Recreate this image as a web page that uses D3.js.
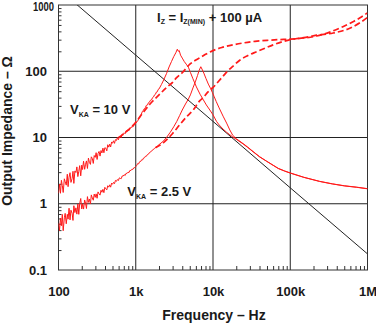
<!DOCTYPE html>
<html>
<head>
<meta charset="utf-8">
<script src="https://cdn.jsdelivr.net/npm/d3@7"></script>
<style>
  html, body { margin: 0; padding: 0; background: #fff; }
  svg { display: block; }
  text { font-family: "Liberation Sans", Arial, Helvetica, sans-serif; font-weight: bold; fill: #1a1a1a; }
</style>
</head>
<body>
<svg id="chart" width="376" height="323"></svg>
<script>
// Axis ticks
const xTickValues = [1e2, 1e3, 1e4, 1e5, 1e6];
const xTickLabels = ["100", "1k", "10k", "100k", "1M"];
const yTickValues = [0.1, 1, 10, 100, 1000];
const yTickLabels = ["0.1", "1", "10", "100", "1000"];

// Capacitive reference line (frequency Hz, impedance Ω)
const capLine = [[170, 1030], [1000, 175], [10000, 17.5], [100000, 1.74], [1000000, 0.175]];

// V_KA = 10 V, measured trace
const solid10V = [
  [100,1.44],[103,1.98],[106,1.44],[109,2.26],[112,1.89],[115,1.48],[119,2.38],[122,2.16],[126,1.91],[130,2.79],
  [133,1.81],[137,2.52],[141,2.94],[145,2.10],[150,2.40],[154,3.09],[158,2.03],[163,3.13],[168,2.96],[173,3.60],
  [178,2.57],[183,3.08],[188,3.76],[194,2.64],[200,3.83],[205,3.29],[211,4.39],[218,3.31],[224,3.94],[230,4.43],
  [237,3.41],[244,4.89],[251,4.22],[259,3.93],[266,5.11],[274,4.82],[282,4.06],[290,5.34],[299,5.02],[307,5.90],
  [316,4.66],[325,5.73],[335,6.16],[345,5.24],[355,6.36],[365,5.84],[376,6.91],[387,5.88],[398,7.01],[410,6.89],
  [422,6.28],[434,7.78],[447,7.15],[460,7.95],[473,7.19],[487,8.57],[501,8.18],[516,8.92],[531,8.16],[546,9.28],
  [562,9.00],[579,10.0],[596,9.24],[613,10.3],[631,10.3],[649,9.97],[668,11.3],[688,11.0],[708,11.8],[729,11.4],
  [750,12.6],[772,12.35],[794,13.1],[818,12.7],[841,14.0],[866,13.9],[891,14.7],[917,14.4],[944,15.4],[972,15.55],
  [1000,16.5],[1030,17.2],[1060,17.8],[1090,19.2],[1120,19.6],[1150,21.5],[1180,22.4],[1220,24.8],[1250,25.5],[1290,27.2],
  [1330,28.2],[1370,30.5],[1420,31],[1460,33.5],[1500,34],[1550,36.5],[1600,37],[1650,40],[1700,41],[1750,44],
  [1800,45],[1850,48.5],[1900,49],[1950,53],[2000,54],[2150,63],[2300,74],[2500,92],[2700,116],[2900,140],
  [3100,166],[3300,190],[3450,215],[3550,200],[3650,206],[3800,175],[4000,158],[4250,140],[4500,128],[4800,115],
  [5100,96],[5500,77],[6100,58],[6800,45],[7500,37],[8200,31],[9100,26],[10000,22],[11100,17.5],[12000,15.5],
  [13500,13.4],[15000,12],[16500,11],[18000,10.2],[20000,9.4],[24500,8.0],[28000,7.1],[33000,6.1],[40000,5.1],[49000,4.4],
  [60000,3.8],[70000,3.4],[85000,3.1],[100000,2.9],[150000,2.5],[240000,2.17],[350000,1.99],[500000,1.86],[725000,1.77],[1000000,1.68]
];

// V_KA = 2.5 V, measured trace
const solid2V5 = [
  [100,0.504],[103,0.394],[106,0.606],[109,0.466],[112,0.690],[115,0.392],[119,0.614],[122,0.715],[126,0.499],[130,0.692],
  [133,0.586],[137,0.855],[141,0.571],[145,0.799],[150,0.717],[154,0.560],[158,0.933],[163,0.736],[168,0.868],[173,0.697],
  [178,0.993],[183,0.692],[188,1.00],[194,1.20],[200,0.834],[205,0.990],[211,0.831],[218,1.14],[224,1.02],[230,0.847],
  [237,1.28],[244,1.05],[251,1.18],[259,0.992],[266,1.36],[274,1.22],[282,1.13],[290,1.40],[299,1.25],[307,1.41],
  [316,1.21],[325,1.51],[335,1.41],[345,1.35],[355,1.60],[365,1.49],[376,1.65],[387,1.47],[398,1.77],[410,1.68],
  [422,1.62],[434,1.87],[447,1.78],[460,1.93],[473,1.78],[487,2.05],[501,1.97],[516,2.10],[531,2.01],[546,2.25],
  [562,2.18],[579,2.32],[596,2.24],[613,2.46],[631,2.41],[649,2.39],[668,2.63],[688,2.62],[708,2.74],[729,2.67],
  [750,2.88],[772,2.87],[794,3.00],[818,2.96],[841,3.19],[866,3.17],[891,3.32],[917,3.30],[944,3.49],[972,3.51],
  [1000,3.64],[1030,3.8],[1060,4.05],[1090,4.0],[1120,4.3],[1160,4.35],[1190,4.6],[1230,4.6],[1260,4.9],[1300,4.95],
  [1330,5.2],[1370,5.2],[1410,5.5],[1460,5.6],[1500,5.9],[1550,6.0],[1600,6.3],[1650,6.4],[1700,6.7],[1750,6.8],
  [1800,7.1],[1900,7.35],[2000,7.8],[2250,8.7],[2500,10],[2800,12],[3100,14.5],[3400,17.5],[3700,21.5],[4000,26],
  [4400,32],[4800,38],[5100,44],[5500,56],[5900,69],[6300,86],[6600,102],[6950,117],[7200,108],[7600,94],
  [8100,78],[8700,64],[9300,55],[9800,48],[10300,42],[11000,35],[12000,28],[13500,21],[15000,16.5],[16500,13],
  [18000,10.8],[20000,9.6],[24500,8.1],[28000,7.2],[33000,6.15],[40000,5.15],[49000,4.42],[60000,3.82],[70000,3.42],[85000,3.12],
  [100000,2.92],[150000,2.51],[240000,2.18],[350000,2.0],[500000,1.87],[725000,1.78],[1000000,1.69]
];

// V_KA = 10 V, dashed trace
const dashed10V = [
  [600,10],[800,13],[1000,17],[1250,24],[1530,32],[2000,44],[2510,57],[3000,68],[3380,80],[4000,95],
  [5020,128],[6000,148],[6800,160],[8000,180],[10000,205],[13000,228],[18000,250],[25000,268],[35000,283],
  [50000,293],[70000,300],[100000,305],[150000,318],[220000,340],[325000,390],[480000,470],[650000,560],
  [800000,640],[1000000,760]
];

// V_KA = 2.5 V, dashed trace
const dashed2V5 = [
  [1800,7],[2270,8.3],[3000,11.5],[3700,15.5],[4550,20.5],[5540,26],[6760,36],[7460,40],[8500,48],
  [10000,57],[12500,76],[15000,97],[18500,122],[22400,148],[28000,172],[36600,197],[48000,225],[60000,250],
  [80000,280],[100000,300],[150000,322],[220000,350],[360000,378],[590000,445],[800000,540],[1000000,650]
];

const svg = d3.select("#chart");
const plotL = 58.5, plotR = 367.5, plotT = 5, plotB = 270;

const x = d3.scaleLog().domain([1e2, 1e6]).range([plotL, plotR]);
const y = d3.scaleLog().domain([0.1, 1000]).range([plotB, plotT]);

// clip region for the traces
svg.append("clipPath").attr("id", "plotClip")
  .append("rect").attr("x", plotL).attr("y", plotT).attr("width", plotR - plotL).attr("height", plotB - plotT);

// minor tick values (2..9 in each decade)
const minorX = [];
for (let e = 2; e < 6; e++) for (let m = 2; m <= 9; m++) minorX.push(m * Math.pow(10, e));
const minorY = [];
for (let e = -1; e < 3; e++) for (let m = 2; m <= 9; m++) minorY.push(m * Math.pow(10, e));

// grid lines
const grid = svg.append("g").attr("stroke", "#222").attr("stroke-width", 1);
xTickValues.slice(1, -1).forEach(v => {
  grid.append("line").attr("x1", x(v)).attr("x2", x(v)).attr("y1", plotT).attr("y2", plotB);
});
yTickValues.slice(1, -1).forEach(v => {
  grid.append("line").attr("x1", plotL).attr("x2", plotR).attr("y1", y(v)).attr("y2", y(v));
});

// frame
svg.append("rect").attr("x", plotL).attr("y", plotT).attr("width", plotR - plotL).attr("height", plotB - plotT)
  .attr("fill", "none").attr("stroke", "#333").attr("stroke-width", 1);

// minor ticks (inward)
const minorAxisX = d3.axisBottom(x).tickValues(minorX).tickSize(-4).tickFormat("");
svg.append("g").attr("transform", `translate(0,${plotB})`).call(minorAxisX)
  .call(g => g.select(".domain").remove())
  .call(g => g.selectAll("line").attr("stroke", "#333"));
const minorAxisY = d3.axisLeft(y).tickValues(minorY).tickSize(-3).tickFormat("");
svg.append("g").attr("transform", `translate(${plotL},0)`).call(minorAxisY)
  .call(g => g.select(".domain").remove())
  .call(g => g.selectAll("line").attr("stroke", "#333"));

// major labels
const xAxis = d3.axisBottom(x).tickValues(xTickValues).tickSize(0).tickPadding(17)
  .tickFormat((d, i) => xTickLabels[i]);
svg.append("g").attr("transform", `translate(0,${plotB})`).call(xAxis)
  .call(g => g.select(".domain").remove())
  .call(g => g.selectAll("text").attr("font-size", 13).attr("font-family", null).attr("fill", "#1a1a1a"));

const yAxis = d3.axisLeft(y).tickValues(yTickValues).tickSize(0).tickPadding(11.5)
  .tickFormat((d, i) => yTickLabels[i]);
svg.append("g").attr("transform", `translate(${plotL},0)`).call(yAxis)
  .call(g => g.select(".domain").remove())
  .call(g => g.selectAll("text").attr("font-size", 13).attr("font-family", null).attr("fill", "#1a1a1a"))
  .call(g => g.selectAll("text").filter(d => d === 1000)
    .attr("x", -4.5).attr("dy", "0.42em").attr("textLength", 21).attr("lengthAdjust", "spacingAndGlyphs"));

// axis titles
svg.append("text").attr("x", 214).attr("y", 320).attr("text-anchor", "middle")
  .attr("font-size", 14).text("Frequency – Hz");
svg.append("text").attr("transform", "translate(12,131) rotate(-90)").attr("text-anchor", "middle")
  .attr("font-size", 14).text("Output Impedance – Ω");

// traces
const line = d3.line().x(d => x(d[0])).y(d => y(d[1]));
const smoothLine = d3.line().curve(d3.curveMonotoneX).x(d => x(d[0])).y(d => y(d[1]));
const plot = svg.append("g").attr("clip-path", "url(#plotClip)");

plot.append("path").datum(capLine).attr("d", line)
  .attr("fill", "none").attr("stroke", "#222").attr("stroke-width", 1);

[solid10V, solid2V5].forEach(s => {
  plot.append("path").datum(s).attr("d", line)
    .attr("fill", "none").attr("stroke", "#ff1a1a").attr("stroke-width", 1)
    .attr("stroke-linejoin", "miter");
});
[dashed10V, dashed2V5].forEach(s => {
  plot.append("path").datum(s).attr("d", smoothLine)
    .attr("fill", "none").attr("stroke", "#ff1a1a").attr("stroke-width", 1.7)
    .attr("stroke-dasharray", "6,3");
});

// annotations
function label(xp, yp, parts) {
  const t = svg.append("text").attr("x", xp).attr("y", yp).attr("font-size", 13);
  parts.forEach(p => {
    const ts = t.append("tspan").text(p.t);
    if (p.sub) ts.attr("font-size", 7).attr("dy", 2.5);
    else if (p.back) ts.attr("dy", -2.5);
  });
}
label(157, 21.7, [
  { t: "I" }, { t: "Z", sub: true }, { t: " = I", back: true }, { t: "Z(MIN)", sub: true }, { t: " + 100 µA", back: true }
]);
label(70, 114.3, [{ t: "V" }, { t: "KA", sub: true }, { t: " = 10 V", back: true }]);
label(127.3, 196, [{ t: "V" }, { t: "KA", sub: true }, { t: " = 2.5 V", back: true }]);
</script>
</body>
</html>
